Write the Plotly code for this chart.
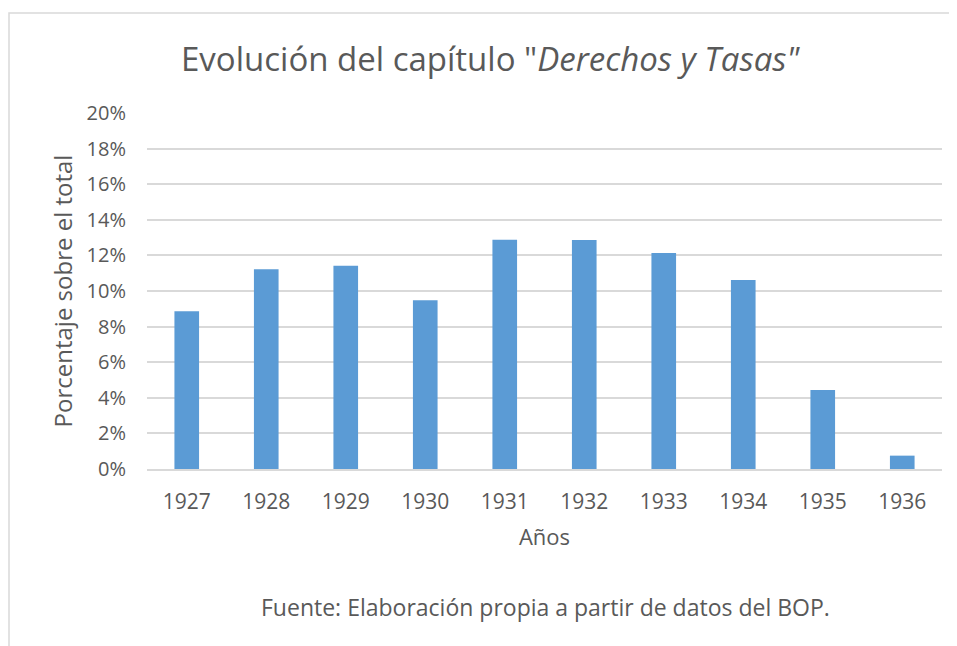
import plotly.graph_objects as go

years = ["1927", "1928", "1929", "1930", "1931", "1932", "1933", "1934", "1935", "1936"]
values = [8.86, 11.22, 11.42, 9.48, 12.88, 12.86, 12.13, 10.62, 4.44, 0.75]
ytick_vals = [0, 2, 4, 6, 8, 10, 12, 14, 16, 18, 20]
ytick_text = [f"{v}%" for v in ytick_vals]

FONT = "Open Sans"
GREY = "#595959"

fig = go.Figure()
fig.add_trace(go.Bar(x=years, y=values, marker=dict(color="#5b9bd5", line=dict(width=0)),
                     width=0.31, hoverinfo="x+y"))

OFF = 8  # page body margin
W, H = 957 - OFF, 646 - OFF
# plot area in page pixels
PX0, PX1, PY0, PY1 = 147, 942, 113, 469
L = PX0 - OFF
T = PY0 - OFF
R = W - (PX1 - OFF)
B = H - (PY1 - OFF)

pw, ph = W - L - R, H - T - B
def px_x(p):
    return (p - PX0) / pw
def px_y(p):
    return (PY1 - p) / ph

fig.update_layout(
    width=W, height=H,
    margin=dict(l=L, r=R, t=T, b=B),
    paper_bgcolor="white", plot_bgcolor="white",
    font=dict(family=FONT, color=GREY),
    showlegend=False,
    xaxis=dict(showgrid=False, showline=True, linecolor="#d9d9d9", linewidth=1.5,
               tickfont=dict(size=21, color=GREY), ticks="", ticklabelstandoff=13,
               title=dict(text="Años", font=dict(size=22, color=GREY), standoff=16)),
    yaxis=dict(range=[0, 20], tickvals=ytick_vals, ticktext=ytick_text,
               showgrid=True, gridcolor="#d9d9d9", gridwidth=1.5, zeroline=False,
               showline=False, ticks="", ticklabelstandoff=20,
               tickfont=dict(size=20, color=GREY),
               title=dict(text="Porcentaje sobre el total", font=dict(size=24, color=GREY), standoff=7)),
    bargap=0.69,
)

fig.add_annotation(text='Evolución del capítulo "<i>Derechos y Tasas"</i>',
                   xref="paper", yref="paper", x=px_x(491), y=px_y(59),
                   xanchor="center", yanchor="middle", showarrow=False,
                   font=dict(family=FONT, size=33, color=GREY))

fig.add_shape(type="rect", xref="paper", yref="paper",
              x0=px_x(OFF + 1), x1=px_x(990), y0=px_y(700), y1=px_y(13),
              line=dict(color="#d9d9d9", width=1.5), fillcolor="rgba(0,0,0,0)", layer="below")

fig.add_annotation(text="Fuente: Elaboración propia a partir de datos del BOP.",
                   xref="paper", yref="paper", x=px_x(545), y=px_y(607),
                   xanchor="center", yanchor="middle", showarrow=False,
                   font=dict(family=FONT, size=23, color=GREY))

fig.write_html("out.html")
